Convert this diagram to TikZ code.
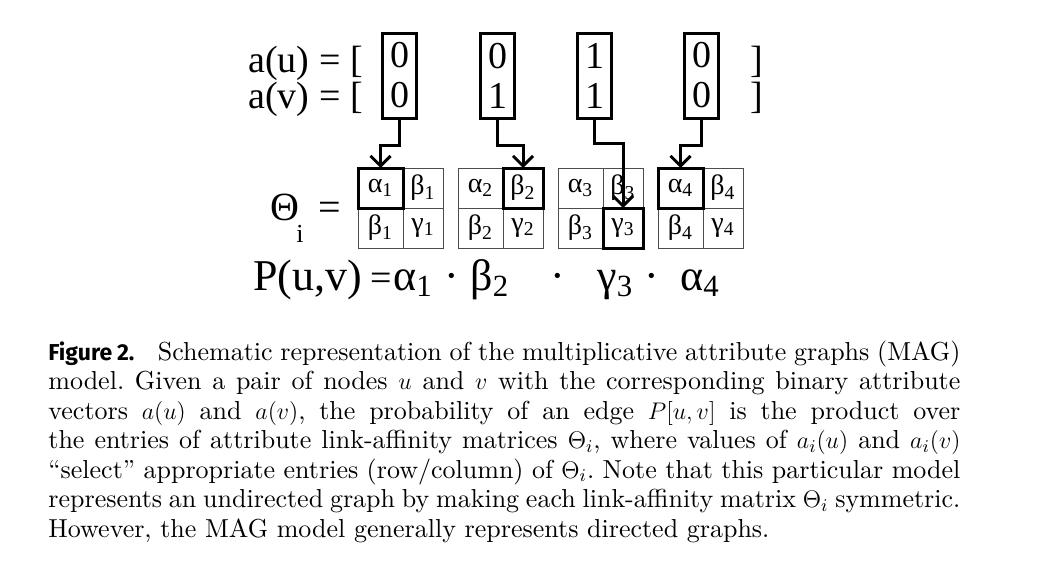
\documentclass[tikz,border=0pt]{standalone}
\usepackage{fontspec}
\setmainfont{lmroman10-regular.otf}[ItalicFont=lmroman10-italic.otf,BoldFont=lmroman10-bold.otf]
\newfontfamily\tms{Liberation Serif}
\newfontfamily\figsf{Fira Sans}
\usetikzlibrary{positioning,arrows.meta}
\tikzset{
  bunka/.style={draw=black!70,line width=0.5pt,minimum height=20pt,inner sep=0pt,outer sep=0pt,font=\tms\fontsize{14}{14}\selectfont},
  bunkaL/.style={bunka,minimum width=22.5pt},
  bunkaP/.style={bunka,minimum width=20pt},
  vyber/.style={draw=black,line width=1.5pt},
  hodn/.style={draw,line width=1.5pt,minimum width=17pt,minimum height=42.5pt,inner sep=0pt,align=center,font=\tms\fontsize{19}{20}\selectfont},
  popis/.style={inner sep=0pt,anchor=base west,font=\tms\fontsize{19}{19}\selectfont},
  soucin/.style={inner sep=0pt,anchor=base west,font=\tms\fontsize{22}{22}\selectfont},
  sipka/.style={-{Straight Barb[length=5pt,width=10pt]},line width=1.5pt},
}

\begin{document}
\begin{tikzpicture}[x=0.5pt,y=-0.5pt]
  \useasboundingbox (0,0) rectangle (1038,584);
  % vektory atributu
  \node[popis] (au) at (248,72) {a(u) = [}; \node[popis] (av) at (248,108) {a(v) = [};
  \node[popis] (zu) at (750,72) {]}; \node[popis] (zv) at (750,108) {]};
  \node[hodn] (v1) at (399.5,75.5) {0\\0}; \node[hodn] (v2) at (497.5,75.5) {0\\1};
  \node[hodn] (v3) at (594.5,75.5) {1\\1}; \node[hodn] (v4) at (701.5,75.5) {0\\0};
  % matice Theta_i
  \node[popis,font=\tms\fontsize{20}{20}\selectfont] (th) at (270,220) {Θ};
  \node[popis,font=\tms\fontsize{13}{13}\selectfont] (thi) at (296,242) {i};
  \node[popis,font=\tms\fontsize{20}{20}\selectfont] (thr) at (318,220) {=};
  \node[bunkaL] (a1) at (380.5,188) {α\textsubscript{1}}; \node[bunkaP,right=0pt of a1] (b1) {β\textsubscript{1}};
  \node[bunkaL,below=0pt of a1] (c1) {β\textsubscript{1}}; \node[bunkaP,right=0pt of c1] (g1) {γ\textsubscript{1}};
  \node[bunkaL] (a2) at (480.5,188) {α\textsubscript{2}}; \node[bunkaP,right=0pt of a2] (b2) {β\textsubscript{2}};
  \node[bunkaL,below=0pt of a2] (c2) {β\textsubscript{2}}; \node[bunkaP,right=0pt of c2] (g2) {γ\textsubscript{2}};
  \node[bunkaL] (a3) at (580.5,188) {α\textsubscript{3}}; \node[bunkaP,right=0pt of a3] (b3) {β\textsubscript{3}};
  \node[bunkaL,below=0pt of a3] (c3) {β\textsubscript{3}}; \node[bunkaP,right=0pt of c3] (g3) {γ\textsubscript{3}};
  \node[bunkaL] (a4) at (680.5,188) {α\textsubscript{4}}; \node[bunkaP,right=0pt of a4] (b4) {β\textsubscript{4}};
  \node[bunkaL,below=0pt of a4] (c4) {β\textsubscript{4}}; \node[bunkaP,right=0pt of c4] (g4) {γ\textsubscript{4}};
  \draw[vyber] (a1.north west) rectangle (a1.south east);
  \draw[vyber] (b2.north west) rectangle (b2.south east);
  \draw[vyber] (g3.north west) rectangle (g3.south east);
  \draw[vyber] (a4.north west) rectangle (a4.south east);
  % vyber prvku
  \draw[sipka] (v1.south) |- ([yshift=11.5pt]a1.north) -- (a1.north);
  \draw[sipka] (v2.south) |- ([yshift=11.5pt]b2.north) -- (b2.north);
  \draw[sipka] (v3.south) |- ([yshift=32.5pt]g3.north) -- (g3.north);
  \draw[sipka] (v4.south) |- ([yshift=11.5pt]a4.north) -- (a4.north);
  % soucin
  \node[soucin] (puv) at (253,290) {P(u,v)}; \node[soucin,anchor=base,font=\tms\fontsize{19}{19}\selectfont] (pr) at (381,290) {=};
  \node[soucin] (f1) at (393,290) {α\textsubscript{1}}; \node[soucin,anchor=base] (t1) at (452,290) {·};
  \node[soucin] (f2) at (470,290) {β\textsubscript{2}}; \node[soucin,anchor=base] (t2) at (558,290) {·};
  \node[soucin] (f3) at (597,290) {γ\textsubscript{3}}; \node[soucin,anchor=base] (t3) at (652,290) {·};
  \node[soucin] (f4) at (680,290) {α\textsubscript{4}};
  % popisek
  \node[anchor=base west,inner sep=0pt,text width=456pt,align=justify,font=\fontsize{13}{14.75}\selectfont\frenchspacing] (popisek) at (48,360)
    {{\figsf\fontsize{11.5}{11.5}\selectfont\bfseries Figure 2.}\hspace{0.9em}Schematic representation of the multiplicative attribute graphs (MAG)\linebreak
     model. Given a pair of nodes $u$ and $v$ with the corresponding binary attribute\linebreak
     vectors $a(u)$ and $a(v)$, the probability of an edge $P[u,v]$ is the product over\linebreak
     the entries of attribute link-affinity matrices $\Theta_i$, where values of $a_i(u)$ and $a_i(v)$\linebreak
     “select” appropriate entries (row/column) of $\Theta_i$. Note that this particular model\linebreak
     represents an undirected graph by making each link-affinity matrix $\Theta_i$ symmetric.\linebreak
     However, the MAG model generally represents directed graphs.};
\end{tikzpicture}
\end{document}
